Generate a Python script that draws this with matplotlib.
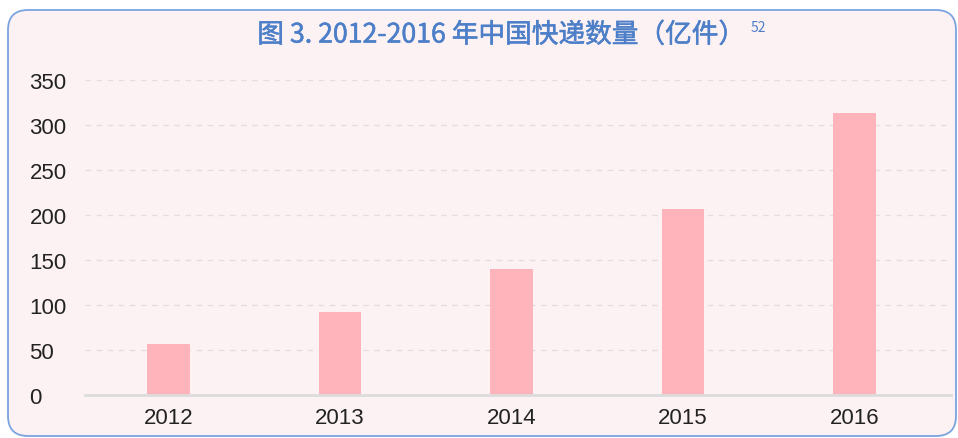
import matplotlib
matplotlib.use("Agg")
import matplotlib.pyplot as plt
import matplotlib.patches as mpatches
import matplotlib.patheffects as pe

# ── data ────────────────────────────────────────────────────────────────────
years = ["2012", "2013", "2014", "2015", "2016"]
parcels = [56.9, 91.9, 139.6, 206.7, 312.8]   # 亿件
y_ticks = [0, 50, 100, 150, 200, 250, 300, 350]

TITLE = "图 3. 2012-2016 年中国快递数量（亿件）"
NOTE = "52"

W, H = 958, 439
BG = "#fdf2f3"
BAR = "#ffb3ba"
BLUE = "#4d7fc9"

plt.rcParams["font.family"] = ["Noto Sans CJK SC", "DejaVu Sans"]

fig = plt.figure(figsize=(W / 100, H / 100), dpi=100)
fig.patch.set_facecolor("white")

# pixel-space background axes for the rounded card
bg = fig.add_axes([0, 0, 1, 1], zorder=0)
bg.set_xlim(0, W)
bg.set_ylim(H, 0)
bg.axis("off")
bg.add_patch(mpatches.FancyBboxPatch(
    (8, 11), 948, 426, boxstyle="round,pad=0,rounding_size=20",
    facecolor=BG, edgecolor="#7ba3e0", linewidth=1.3))

# title drawn slightly heavier than regular (semi-bold look)
bg.text(501, 36, TITLE, ha="center", va="center", fontsize=19.2,
        color=BLUE, path_effects=[pe.withStroke(linewidth=0.4, foreground=BLUE)])
bg.text(751, 28, NOTE, ha="left", va="center", fontsize=10, color=BLUE)

# main chart
ax = fig.add_axes([85 / W, 1 - 396 / H, (951 - 85) / W, (396 - 81) / H], zorder=1)
ax.set_facecolor("none")
x = range(len(years))
ax.bar(x, parcels, width=0.25, color=BAR, zorder=3)

ax.set_xlim(-0.487, len(years) - 1 + 0.563)
ax.set_ylim(0, 350)
ax.set_yticks(y_ticks)
ax.set_xticks(list(x))
ax.set_xticklabels(years)

for s in ["top", "right", "left"]:
    ax.spines[s].set_visible(False)
ax.spines["bottom"].set_color("#dcdcdc")
ax.spines["bottom"].set_linewidth(2)
ax.spines["bottom"].set_zorder(4)

ax.yaxis.grid(True, color="#e2dede", linestyle=(0, (4, 4)), linewidth=1)
ax.set_axisbelow(True)

ax.tick_params(axis="both", length=0, labelsize=16, labelcolor="#222222")
ax.tick_params(axis="x", pad=8.5)
ax.tick_params(axis="y", pad=40)
for lbl in ax.get_yticklabels() + ax.get_xticklabels():
    lbl.set_fontfamily("Liberation Sans")
for lbl in ax.get_yticklabels():
    lbl.set_horizontalalignment("left")

fig.savefig("out.png", dpi=100)
